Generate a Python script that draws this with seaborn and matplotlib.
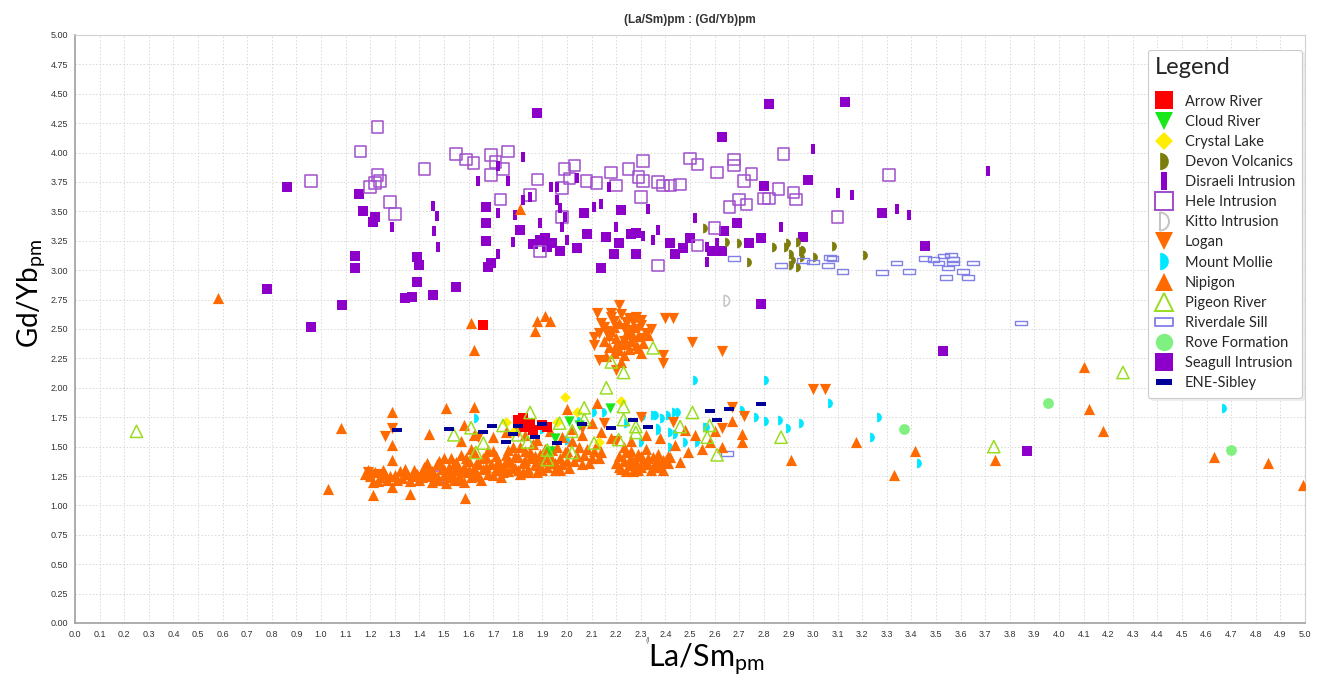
import matplotlib
matplotlib.use("Agg")
import matplotlib.pyplot as plt
from matplotlib.path import Path
from matplotlib.lines import Line2D
import seaborn as sns

# ---------------------------------------------------------------------------
# (La/Sm)pm vs (Gd/Yb)pm, one list of (x, y) pairs per unit
# ---------------------------------------------------------------------------
arrow_river = [(1.66, 2.53), (1.80, 1.73), (1.82, 1.74), (1.85, 1.70), (1.86, 1.64),
               (1.90, 1.68), (1.92, 1.67), (1.84, 1.67), (1.82, 1.67)]

cloud_river = [(2.175, 1.83), (2.01, 1.72), (1.93, 1.46), (1.95, 1.57), (2.05, 1.68)]

crystal_lake = [(1.99, 1.92), (2.22, 1.89), (1.75, 1.71), (2.04, 1.79), (2.13, 1.54),
                (1.96, 1.71), (1.78, 1.62)]

devon_volcanics = [(2.56, 3.36), (2.65, 3.24), (2.70, 3.23), (2.74, 3.07), (2.84, 3.20),
                   (2.89, 3.20), (2.90, 3.23), (2.91, 3.14), (2.92, 3.09), (2.91, 3.04),
                   (2.94, 3.24), (2.95, 3.16), (2.955, 3.11), (2.96, 3.17), (2.94, 3.03),
                   (3.01, 3.11), (3.085, 3.21), (3.21, 3.13)]

disraeli_intrusion = [(1.82, 3.96), (1.64, 3.76), (1.76, 3.76), (1.72, 3.89), (1.455, 3.55),
                      (1.47, 3.46), (1.46, 3.33), (1.475, 3.20), (1.29, 3.37), (1.72, 3.49),
                      (1.72, 3.14), (1.78, 3.24), (1.79, 3.47), (1.82, 3.60), (1.85, 3.62),
                      (1.89, 3.40), (1.935, 3.71), (1.96, 3.71), (1.96, 3.60), (1.97, 3.53),
                      (1.98, 3.37), (2.00, 3.26), (2.04, 3.78), (2.11, 3.54), (1.99, 3.45),
                      (2.14, 3.56), (2.17, 3.71), (2.20, 3.37), (2.31, 3.29), (2.33, 3.52),
                      (2.35, 3.26), (2.37, 3.34), (2.52, 3.44), (2.57, 3.20), (2.57, 3.07),
                      (2.61, 3.23), (2.87, 3.37), (3.00, 4.03), (3.10, 3.66), (3.16, 3.64),
                      (3.34, 3.52), (3.39, 3.47), (3.71, 3.84)]

hele_intrusion = [(1.23, 4.22), (1.16, 4.01), (0.96, 3.76), (1.42, 3.86), (1.23, 3.81),
                  (1.24, 3.76), (1.22, 3.74), (1.20, 3.71), (1.28, 3.58), (1.30, 3.48),
                  (1.55, 3.99), (1.59, 3.94), (1.62, 3.91), (1.69, 3.98), (1.76, 4.01),
                  (1.71, 3.92), (1.74, 3.86), (1.69, 3.81), (1.73, 3.60), (1.85, 3.64),
                  (1.88, 3.77), (1.89, 3.16), (1.98, 3.45), (1.99, 3.86), (2.03, 3.89),
                  (1.98, 3.70), (2.01, 3.78), (2.08, 3.76), (2.12, 3.74), (2.18, 3.83),
                  (2.20, 3.72), (2.25, 3.86), (2.31, 3.93), (2.29, 3.79), (2.31, 3.76),
                  (2.30, 3.62), (2.37, 3.75), (2.39, 3.72), (2.42, 3.72), (2.46, 3.73),
                  (2.37, 3.04), (2.53, 3.21), (2.60, 3.36), (2.50, 3.95), (2.53, 3.90),
                  (2.61, 3.83), (2.68, 3.94), (2.68, 3.89), (2.72, 3.76), (2.75, 3.82),
                  (2.66, 3.54), (2.70, 3.60), (2.73, 3.56), (2.80, 3.61), (2.82, 3.61),
                  (2.86, 3.69), (2.88, 3.99), (2.92, 3.66), (2.93, 3.60), (3.10, 3.45),
                  (3.31, 3.81), (1.475, 1.24)]

kitto_intrusion = [(2.65, 2.74)]

logan = [(2.21, 2.70), (2.12, 2.64), (2.18, 2.64), (2.25, 2.59), (2.30, 2.58),
         (2.34, 2.50), (2.40, 2.59), (2.43, 2.59), (2.51, 2.39), (2.63, 2.31),
         (2.39, 2.28), (2.39, 2.21), (2.11, 2.43), (2.11, 2.36), (2.13, 2.24),
         (2.20, 2.15), (3.00, 1.99), (3.05, 1.99), (2.14, 2.55), (2.16, 2.48),
         (2.18, 2.60), (2.20, 2.52), (2.22, 2.63), (2.24, 2.56), (2.26, 2.49),
         (2.28, 2.60), (2.30, 2.53), (2.32, 2.47), (2.17, 2.43), (2.23, 2.40),
         (2.15, 2.52), (2.19, 2.57), (2.23, 2.51), (2.27, 2.56), (2.29, 2.50),
         (2.25, 2.45), (2.13, 2.47), (2.31, 2.42),
         (1.19, 1.28), (1.23, 1.27), (1.21, 1.26), (1.26, 1.59), (1.29, 1.66),
         (1.64, 1.58), (1.80, 1.62), (2.06, 1.66), (2.15, 1.70), (2.30, 1.75),
         (2.43, 1.71), (2.63, 1.66), (2.67, 1.84), (2.72, 1.76), (2.20, 1.55)]

mount_mollie = [(2.52, 2.07), (2.81, 2.07), (3.07, 1.87), (3.27, 1.75), (3.24, 1.58),
                (2.71, 1.81), (2.77, 1.75), (2.81, 1.72), (2.865, 1.73), (2.90, 1.66),
                (2.95, 1.70), (2.435, 1.79), (2.45, 1.79), (2.41, 1.77), (2.36, 1.77),
                (2.385, 1.74), (2.31, 1.76), (2.37, 1.64), (2.42, 1.62), (2.44, 1.61),
                (2.48, 1.54), (2.53, 1.54), (2.56, 1.67), (2.57, 1.67), (2.42, 1.50),
                (2.24, 1.70), (2.15, 1.79), (2.11, 1.79), (2.30, 1.54), (3.43, 1.36),
                (4.67, 1.83), (1.63, 1.74), (1.86, 1.51), (2.35, 1.77), (2.37, 1.66),
                (1.87, 1.62), (1.90, 1.65), (2.05, 1.72), (2.00, 1.56)]

nipigon = [(0.58, 2.76), (1.08, 1.66), (1.03, 1.14), (4.10, 2.18), (4.12, 1.82),
           (4.18, 1.63), (3.415, 1.46), (3.33, 1.26), (3.74, 1.39), (4.63, 1.41),
           (4.85, 1.36), (4.99, 1.17), (3.175, 1.54), (2.91, 1.39), (2.71, 1.61),
           (2.71, 1.54), (2.63, 1.50), (2.67, 1.72), (2.48, 1.64), (2.58, 1.54),
           (2.49, 1.45), (2.46, 1.37), (2.42, 1.41), (1.61, 2.55), (1.62, 2.32),
           (1.81, 3.52), (1.88, 2.57), (1.91, 2.61), (1.93, 2.57), (1.87, 2.48),
           (1.21, 1.09), (1.29, 1.16), (1.36, 1.10), (1.585, 1.06), (1.29, 1.79),
           (1.29, 1.51), (1.29, 1.39), (1.51, 1.83), (1.62, 1.84), (1.44, 1.61),
           (2.00, 1.82), (2.12, 1.87), (1.58, 1.68), (1.21, 1.20),
           # main band
           (1.18, 1.27), (1.20, 1.25), (1.22, 1.28), (1.24, 1.24), (1.26, 1.27),
           (1.27, 1.22), (1.30, 1.26), (1.32, 1.29), (1.33, 1.23), (1.35, 1.27),
           (1.37, 1.25), (1.38, 1.30), (1.40, 1.22), (1.41, 1.28), (1.42, 1.33),
           (1.43, 1.25), (1.44, 1.30), (1.45, 1.20), (1.46, 1.27), (1.47, 1.35),
           (1.48, 1.22), (1.49, 1.31), (1.50, 1.26), (1.50, 1.40), (1.51, 1.19),
           (1.52, 1.33), (1.53, 1.28), (1.54, 1.22), (1.55, 1.37), (1.55, 1.30),
           (1.56, 1.25), (1.57, 1.43), (1.58, 1.33), (1.58, 1.20), (1.59, 1.28),
           (1.60, 1.38), (1.61, 1.24), (1.62, 1.32), (1.62, 1.45), (1.63, 1.27),
           (1.64, 1.36), (1.65, 1.22), (1.66, 1.31), (1.67, 1.41), (1.68, 1.27),
           (1.69, 1.35), (1.70, 1.46), (1.71, 1.30), (1.72, 1.38), (1.73, 1.24),
           (1.74, 1.33), (1.75, 1.43), (1.76, 1.29), (1.77, 1.37), (1.78, 1.50),
           (1.79, 1.32), (1.80, 1.41), (1.81, 1.27), (1.82, 1.36), (1.83, 1.46),
           (1.84, 1.31), (1.85, 1.40), (1.86, 1.52), (1.87, 1.35), (1.88, 1.28),
           (1.89, 1.44), (1.90, 1.38), (1.91, 1.48), (1.92, 1.33), (1.93, 1.42),
           (1.95, 1.36), (1.96, 1.50), (1.97, 1.30), (1.99, 1.45), (2.00, 1.38),
           (2.02, 1.55), (2.04, 1.42), (2.06, 1.35), (2.08, 1.48), (2.10, 1.40),
           (2.12, 1.52), (2.14, 1.45), (1.82, 1.28), (1.96, 1.33),
           (1.19, 1.30), (1.23, 1.21), (1.25, 1.30), (1.28, 1.25), (1.31, 1.22),
           (1.34, 1.31), (1.36, 1.21), (1.39, 1.27), (1.41, 1.24), (1.43, 1.36),
           (1.45, 1.29), (1.47, 1.24), (1.48, 1.38), (1.50, 1.31), (1.52, 1.24),
           (1.53, 1.40), (1.54, 1.35), (1.56, 1.31), (1.57, 1.22), (1.59, 1.40),
           (1.60, 1.30), (1.61, 1.48), (1.63, 1.35), (1.64, 1.25), (1.66, 1.40),
           (1.67, 1.33), (1.68, 1.47), (1.70, 1.26), (1.71, 1.42), (1.72, 1.33),
           (1.74, 1.28), (1.75, 1.38), (1.76, 1.47), (1.78, 1.33), (1.79, 1.42),
           (1.80, 1.30), (1.81, 1.50), (1.83, 1.39), (1.84, 1.28), (1.85, 1.45),
           (1.87, 1.42), (1.88, 1.34), (1.90, 1.30), (1.91, 1.41), (1.93, 1.36),
           (1.94, 1.47), (1.95, 1.30), (1.97, 1.40), (1.98, 1.35), (2.00, 1.46),
           (2.01, 1.32), (2.03, 1.38), (2.05, 1.50), (2.07, 1.43), (2.09, 1.36),
           (2.11, 1.46), (2.13, 1.40),
           # cluster near 2.3
           (2.20, 1.36), (2.21, 1.42), (2.22, 1.31), (2.23, 1.38), (2.24, 1.45),
           (2.25, 1.34), (2.26, 1.40), (2.27, 1.29), (2.28, 1.37), (2.29, 1.44),
           (2.30, 1.33), (2.31, 1.39), (2.32, 1.48), (2.33, 1.35), (2.34, 1.30),
           (2.35, 1.41), (2.36, 1.36), (2.37, 1.44), (2.38, 1.33), (2.39, 1.39),
           (2.40, 1.37), (2.41, 1.42), (2.23, 1.50), (2.29, 1.30),
           (2.21, 1.33), (2.24, 1.29), (2.26, 1.46), (2.28, 1.32), (2.30, 1.42),
           (2.33, 1.40), (2.35, 1.33), (2.37, 1.38), (2.39, 1.30), (2.41, 1.36),
           (2.25, 1.38), (2.32, 1.36),
           # upper group
           (2.15, 2.40), (2.17, 2.35), (2.18, 2.48), (2.19, 2.30), (2.20, 2.42),
           (2.21, 2.55), (2.22, 2.37), (2.23, 2.28), (2.24, 2.46), (2.25, 2.33),
           (2.26, 2.40), (2.27, 2.52), (2.28, 2.36), (2.29, 2.44), (2.30, 2.30),
           (2.31, 2.38), (2.22, 2.22), (2.19, 2.52), (2.16, 2.27), (2.33, 2.45),
           (2.17, 2.45), (2.21, 2.32), (2.24, 2.38), (2.27, 2.44), (2.29, 2.34),
           (2.25, 2.50), (2.20, 2.36),
           # scattered mid values
           (1.57, 1.55), (1.62, 1.60), (1.70, 1.58), (1.75, 1.62), (1.83, 1.60),
           (1.88, 1.56), (1.93, 1.63), (1.98, 1.58), (2.02, 1.65), (2.06, 1.60),
           (2.10, 1.70), (2.14, 1.62), (2.18, 1.57), (2.26, 1.55), (2.32, 1.60),
           (2.38, 1.57), (2.44, 1.51), (2.52, 1.60), (2.55, 1.48), (2.60, 1.63)]

pigeon_river = [(0.25, 1.63), (4.26, 2.13), (3.735, 1.50), (2.87, 1.58), (2.61, 1.43),
                (2.51, 1.79), (2.58, 1.68), (2.57, 1.58), (2.46, 1.67), (2.35, 2.34),
                (2.23, 2.13), (2.18, 2.22), (2.16, 2.00), (2.23, 1.84), (2.23, 1.73),
                (2.28, 1.67), (2.07, 1.83), (2.11, 1.53), (2.07, 1.73), (1.97, 1.70),
                (2.02, 1.63), (2.02, 1.45), (1.85, 1.79), (1.74, 1.68), (1.61, 1.66),
                (1.66, 1.53), (1.54, 1.60), (1.63, 1.45), (1.80, 1.60), (1.84, 1.54),
                (1.92, 1.47), (1.92, 1.39), (2.21, 1.56), (2.28, 1.62)]

riverdale_sill = [(2.68, 3.10), (2.87, 3.04), (2.96, 3.08), (3.00, 3.07), (3.07, 3.11),
                  (3.08, 3.10), (3.06, 3.04), (3.12, 2.99), (3.28, 2.98), (3.34, 3.06),
                  (3.39, 2.99), (3.455, 3.10), (3.49, 3.09), (3.51, 3.06), (3.53, 3.12),
                  (3.56, 3.13), (3.57, 3.09), (3.57, 3.06), (3.55, 3.02), (3.61, 2.99),
                  (3.63, 2.94), (3.54, 2.94), (3.65, 3.06), (3.845, 2.55), (2.65, 1.44)]

rove_formation = [(3.955, 1.87), (3.37, 1.65), (4.70, 1.47)]

seagull_intrusion = [(0.86, 3.71), (0.78, 2.84), (0.96, 2.52), (1.085, 2.70), (1.14, 3.12),
                     (1.14, 3.02), (1.155, 3.65), (1.17, 3.50), (1.22, 3.45), (1.21, 3.41),
                     (1.39, 3.11), (1.40, 3.04), (1.39, 2.90), (1.34, 2.76), (1.37, 2.77),
                     (1.455, 2.79), (1.55, 2.86), (1.67, 3.54), (1.67, 3.40), (1.67, 3.25),
                     (1.69, 3.06), (1.68, 3.03), (1.81, 3.34), (1.88, 4.34), (1.89, 3.26),
                     (1.91, 3.27), (1.94, 3.23), (1.97, 3.16), (2.04, 3.19), (2.07, 3.49),
                     (2.08, 3.31), (2.82, 4.41), (3.13, 4.43), (2.63, 4.13), (2.16, 3.28),
                     (2.22, 3.51), (2.21, 3.23), (2.19, 3.14), (2.28, 3.14), (2.26, 3.31),
                     (2.28, 3.32), (2.14, 3.02), (2.42, 3.23), (2.44, 3.14), (2.47, 3.19),
                     (2.50, 3.27), (2.59, 3.16), (2.63, 3.16), (2.64, 3.33), (2.69, 3.40),
                     (2.74, 3.23), (2.79, 3.27), (2.80, 3.72), (2.98, 3.77), (2.96, 3.28),
                     (3.28, 3.49), (3.455, 3.21), (2.79, 2.71), (3.53, 2.31), (3.87, 1.46),
                     (1.86, 3.22), (1.92, 3.20)]

ene_sibley = [(1.31, 1.64), (1.52, 1.65), (1.695, 1.675), (1.80, 1.675), (1.66, 1.62),
              (1.78, 1.61), (1.75, 1.54), (1.87, 1.58), (1.90, 1.69), (1.96, 1.53),
              (2.06, 1.69), (2.18, 1.66), (2.27, 1.73), (2.33, 1.67), (2.58, 1.80),
              (2.61, 1.73), (2.66, 1.82), (2.79, 1.86)]

x_ticks = [i / 10 for i in range(51)]
y_ticks = [i / 4 for i in range(21)]

# ---------------------------------------------------------------------------
# custom marker shapes
# ---------------------------------------------------------------------------
_w = Path.wedge(-90, 90)
half_disk = Path(_w.vertices - [0.5, 0.0], _w.codes)
tall_bar = Path([(-0.15, -0.5), (0.15, -0.5), (0.15, 0.5), (-0.15, 0.5), (-0.15, -0.5)],
                [Path.MOVETO, Path.LINETO, Path.LINETO, Path.LINETO, Path.CLOSEPOLY])
flat_bar = Path([(-0.5, -0.2), (0.5, -0.2), (0.5, 0.2), (-0.5, 0.2), (-0.5, -0.2)],
                [Path.MOVETO, Path.LINETO, Path.LINETO, Path.LINETO, Path.CLOSEPOLY])

ORANGE = "#ff6a00"
PURPLE = "#8d00c9"

# name, data, marker, scatter size, face, edge, edge width, legend size
series = {
    "Arrow River": (arrow_river, "s", 60, "#ff0000", "#ff0000", 0.0, 12.5),
    "Cloud River": (cloud_river, "v", 55, "#18e818", "#18e818", 0.0, 12.5),
    "Crystal Lake": (crystal_lake, "D", 30, "#ffee00", "#ffee00", 0.0, 9),
    "Devon Volcanics": (devon_volcanics, half_disk, 48, "#7d7d0c", "#7d7d0c", 0.0, 12.5),
    "Disraeli Intrusion": (disraeli_intrusion, tall_bar, 55, PURPLE, PURPLE, 0.0, 13),
    "Hele Intrusion": (hele_intrusion, "s", 70, "none", "#a050cc", 1.1, 13),
    "Kitto Intrusion": (kitto_intrusion, half_disk, 60, "none", "#c4c4c4", 1.1, 13),
    "Logan": (logan, "v", 65, ORANGE, ORANGE, 0.0, 13),
    "Mount Mollie": (mount_mollie, half_disk, 48, "#00e8ff", "#00e8ff", 0.0, 12.5),
    "Nipigon": (nipigon, "^", 65, ORANGE, ORANGE, 0.0, 13),
    "Pigeon River": (pigeon_river, "^", 78, "none", "#99dd22", 1.1, 13),
    "Riverdale Sill": (riverdale_sill, flat_bar, 70, "none", "#8080e6", 1.0, 13),
    "Rove Formation": (rove_formation, "o", 60, "#80f080", "#80f080", 0.0, 12.5),
    "Seagull Intrusion": (seagull_intrusion, "s", 62, PURPLE, PURPLE, 0.0, 13),
    "ENE-Sibley": (ene_sibley, flat_bar, 58, "#000099", "#000099", 0.0, 11),
}
draw_order = ["Seagull Intrusion", "Hele Intrusion", "Disraeli Intrusion", "Devon Volcanics",
              "Kitto Intrusion", "Riverdale Sill", "Rove Formation", "Mount Mollie", "Logan",
              "Nipigon", "Arrow River", "Crystal Lake", "Cloud River", "Pigeon River",
              "ENE-Sibley"]

# ---------------------------------------------------------------------------
sns.set_theme(style="white")
plt.rcParams["font.family"] = ["Liberation Sans", "DejaVu Sans"]
plt.rcParams["mathtext.fontset"] = "custom"
plt.rcParams["mathtext.rm"] = "Lato"
plt.rcParams["mathtext.default"] = "regular"

W, H = 1323, 679
fig = plt.figure(figsize=(W / 100, H / 100), dpi=100)
ax = fig.add_axes([75 / W, 1 - 623 / H, 1230 / W, 588 / H])

for z, name in enumerate(draw_order):
    pts, marker, size, face, edge, lw, _ = series[name]
    xs = [p[0] for p in pts]
    ys = [p[1] for p in pts]
    sns.scatterplot(x=xs, y=ys, ax=ax, marker=marker, s=size,
                    color=edge, facecolor=face, edgecolor=edge, linewidth=lw,
                    zorder=3 + z * 0.01)

ax.set_xlim(0, 5)
ax.set_ylim(0, 5)
ax.set_xticks(x_ticks)
ax.set_xticklabels([f"{v:.1f}" for v in x_ticks])
ax.set_yticks(y_ticks)
ax.set_yticklabels([f"{v:.2f}" for v in y_ticks])
ax.tick_params(axis="both", labelsize=6.5, colors="#333333", length=2, width=0.6, pad=3)
ax.grid(True, color="#d9d9d9", linestyle=(0, (1.5, 2)), linewidth=0.7)
ax.set_axisbelow(True)
for sp in ax.spines.values():
    sp.set_color("#d0d0d0")
    sp.set_linewidth(0.8)
ax.spines["left"].set_color("#a0a0a0")
ax.spines["bottom"].set_color("#a0a0a0")
ax.spines["left"].set_linewidth(1.2)
ax.spines["bottom"].set_linewidth(1.2)
ax.set_xlabel("")
ax.set_ylabel("")

fig.text(690 / W, 1 - 20 / H, "(La/Sm)pm : (Gd/Yb)pm", ha="center", va="center",
         fontsize=8.5, fontweight="bold", color="#333333")
fig.text(706 / W, 1 - 667 / H, "La/Sm$_{pm}$", ha="center", va="baseline",
         fontsize=22, family="Lato", color="black")
fig.text(31 / W, 1 - 293 / H, "Gd/Yb$_{pm}$", ha="center", va="center",
         fontsize=20, family="Lato", color="black", rotation=90)
fig.text(648 / W, 1 - 641 / H, "(l", ha="center", va="center", fontsize=5.5, color="#666666")

# legend built from proxy artists
handles = []
for name in series:
    pts, marker, size, face, edge, lw, lsize = series[name]
    handles.append(Line2D([], [], linestyle="none", marker=marker, markersize=lsize,
                          markerfacecolor=face, markeredgecolor=edge,
                          markeredgewidth=max(lw, 0.0) * 1.3))
leg = ax.legend(handles, list(series.keys()), title="Legend", loc="upper left",
                bbox_to_anchor=(0.872, 0.975), frameon=True, fancybox=True,
                prop={"family": "Lato", "size": 10.5},
                title_fontproperties={"family": "Lato", "size": 17},
                alignment="left", labelspacing=0.42, handlelength=1.2, handletextpad=0.85,
                borderpad=0.5, borderaxespad=0.0, shadow={"color": "#e0e0e0"})
# extra room between the title and the first entry
leg._legend_box.sep = 0.42 * 10.5 + 7.5
leg.get_frame().set_edgecolor("#cccccc")
leg.get_frame().set_linewidth(0.8)
leg.set_zorder(10)

fig.savefig("out.png", dpi=100)
